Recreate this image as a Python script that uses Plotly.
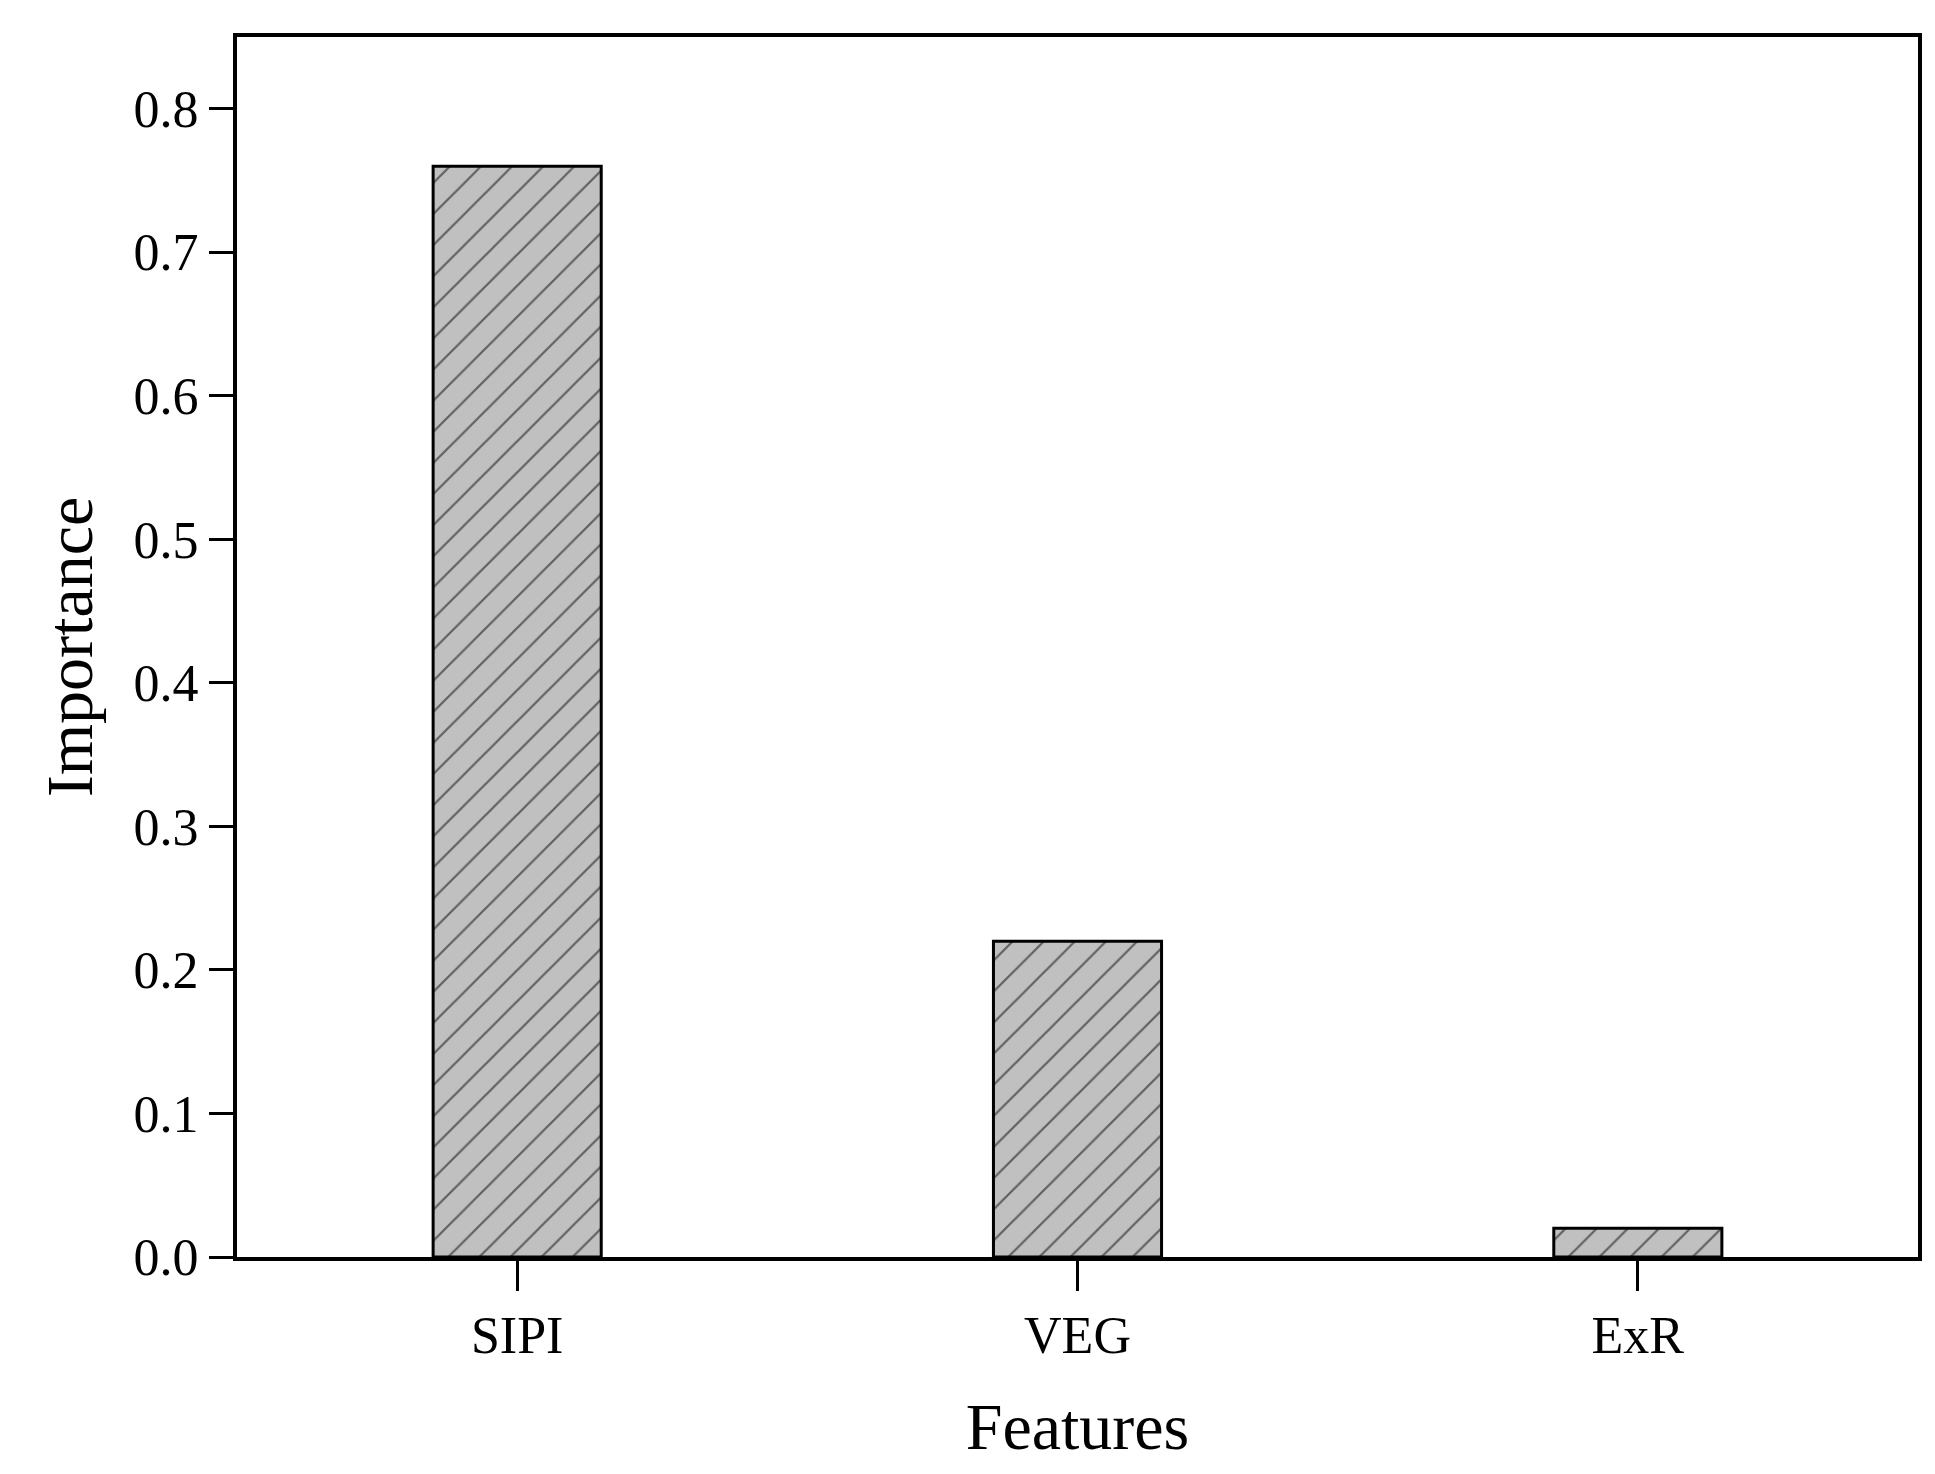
import plotly.graph_objects as go

features = ["SIPI", "VEG", "ExR"]
importance = [0.76, 0.22, 0.02]
yticks = [0.0, 0.1, 0.2, 0.3, 0.4, 0.5, 0.6, 0.7, 0.8]

fig = go.Figure(go.Bar(
    x=features, y=importance, width=0.3,
    marker=dict(color="#c0c0c0", line=dict(color="black", width=3),
                pattern=dict(shape="/", fgcolor="black", bgcolor="#c0c0c0", size=22, solidity=0.1)),
))
font = "Liberation Serif"
fig.update_layout(
    width=1935, height=1474, plot_bgcolor="white", paper_bgcolor="white",
    margin=dict(l=229, r=25, t=29, b=225),
    font=dict(family=font, color="black", size=52),
    showlegend=False,
)
fig.update_xaxes(range=[-0.5, 2.5], showline=True, linecolor="black", linewidth=4, mirror=True,
                 ticks="outside", ticklen=30, tickwidth=3, tickcolor="black",
                 title=dict(text="Features", font=dict(size=66), standoff=40),
                 tickfont=dict(size=52))
fig.update_yaxes(range=[0, 0.85], tickvals=yticks, ticktext=[f"{v:.1f}" for v in yticks],
                 showline=True, linecolor="black", linewidth=4, mirror=True, showgrid=False, zeroline=False,
                 ticks="outside", ticklen=24, tickwidth=3, tickcolor="black",
                 title=dict(text="Importance", font=dict(size=66), standoff=20),
                 tickfont=dict(size=52))
fig.write_html("out.html")
